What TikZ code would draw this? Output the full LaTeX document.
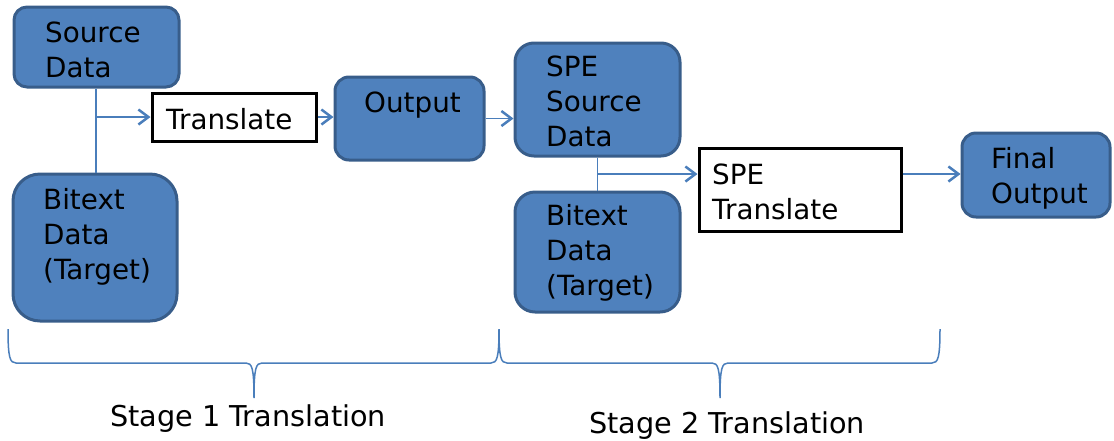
\documentclass[tikz,border=0pt]{standalone}
\usepackage{fontspec}
\setmainfont{DejaVu Sans}
\usetikzlibrary{arrows.meta}
\definecolor{boxfill}{RGB}{79,129,189}
\definecolor{boxline}{RGB}{56,93,138}
\definecolor{linkblue}{RGB}{74,126,187}
\tikzset{
  datbox/.style={draw=boxline, fill=boxfill, line width=3pt, inner sep=0pt},
  procbox/.style={draw=black, fill=white, line width=3pt, inner sep=0pt},
  boxtext/.style={anchor=north west, inner sep=0pt, align=left, font=\fontsize{27.8}{35}\selectfont},
  stagetext/.style={anchor=base west, inner sep=0pt, font=\fontsize{28.7}{34}\selectfont},
  link/.style={draw=linkblue, line width=1.5pt},
  linkarrow/.style={link, -{Straight Barb[length=10pt,width=15pt,line width=2.5pt]}},
  bracepath/.style={draw=linkblue, line width=1.5pt}
}
\begin{document}
\begin{tikzpicture}[x=1pt, y=-1pt]
		\useasboundingbox (0,0) rectangle (1114,440);
		% stage 1
		\node [datbox, rounded corners=13pt, minimum width=165pt, minimum height=80pt] (src) at (96.5,47) {};
		\node [datbox, rounded corners=27pt, minimum width=164pt, minimum height=147pt] (bit1) at (95,247.5) {};
		\node [procbox, minimum width=164pt, minimum height=48pt] (trl) at (234,117) {};
		\node [datbox, rounded corners=14pt, minimum width=149pt, minimum height=83pt] (out) at (409.5,118.5) {};
		\node [boxtext] (srcT) at (45,22) {Source\\Data};
		\node [boxtext] (bit1T) at (43,188) {Bitext\\Data\\(Target)};
		\node [boxtext] (trlT) at (166,108) {Translate};
		\node [boxtext] (outT) at (364,92) {Output};
		% stage 2
		\node [datbox, rounded corners=19pt, minimum width=165pt, minimum height=113pt] (spe) at (597.5,99.5) {};
		\node [datbox, rounded corners=20pt, minimum width=165pt, minimum height=120pt] (bit2) at (597.5,252) {};
		\node [procbox, minimum width=202pt, minimum height=83pt] (spt) at (800,189.5) {};
		\node [datbox, rounded corners=14pt, minimum width=148pt, minimum height=84pt] (fin) at (1036,175) {};
		\node [boxtext] (speT) at (546,56) {SPE\\Source\\Data};
		\node [boxtext] (bit2T) at (546,204) {Bitext\\Data\\(Target)};
		\node [boxtext] (sptT) at (712,164) {SPE\\Translate};
		\node [boxtext] (finT) at (991,147) {Final\\Output};
		% connectors
		\coordinate (j1) at (96,117);
		\coordinate (j2) at (597.5,174);
		\draw [link] (src.south -| j1) -- (j1) -- (j1 |- bit1.north);
		\draw [linkarrow] (j1) -- (trl.west);
		\draw [linkarrow] (trl.east) -- (trl.east -| out.west);
		\draw [linkarrow] (out.east) -- (out.east -| spe.west);
		\draw [link] (spe.south) -- (j2) -- (j2 |- bit2.north);
		\draw [linkarrow] (j2) -- (j2 -| spt.west);
		\draw [linkarrow] (j2 -| spt.east) -- (j2 -| fin.west);
		% braces
		\draw [bracepath] (8,329) .. controls (8,358) and (10,363) .. (16,363) -- (246,363)
			.. controls (252,363) and (254,368) .. (254,398)
			.. controls (254,368) and (256,363) .. (262,363) -- (491,363)
			.. controls (497,363) and (499,358) .. (499,329);
		\draw [bracepath] (499,329) .. controls (499,358) and (501,363) .. (507,363) -- (712,363)
			.. controls (718,363) and (720,368) .. (720,398)
			.. controls (720,368) and (722,363) .. (728,363) -- (932,363)
			.. controls (938,363) and (940,358) .. (940,329);
		\node [stagetext] (st1) at (110,426) {Stage 1 Translation};
		\node [stagetext] (st2) at (589,433) {Stage 2 Translation};
\end{tikzpicture}
\end{document}
